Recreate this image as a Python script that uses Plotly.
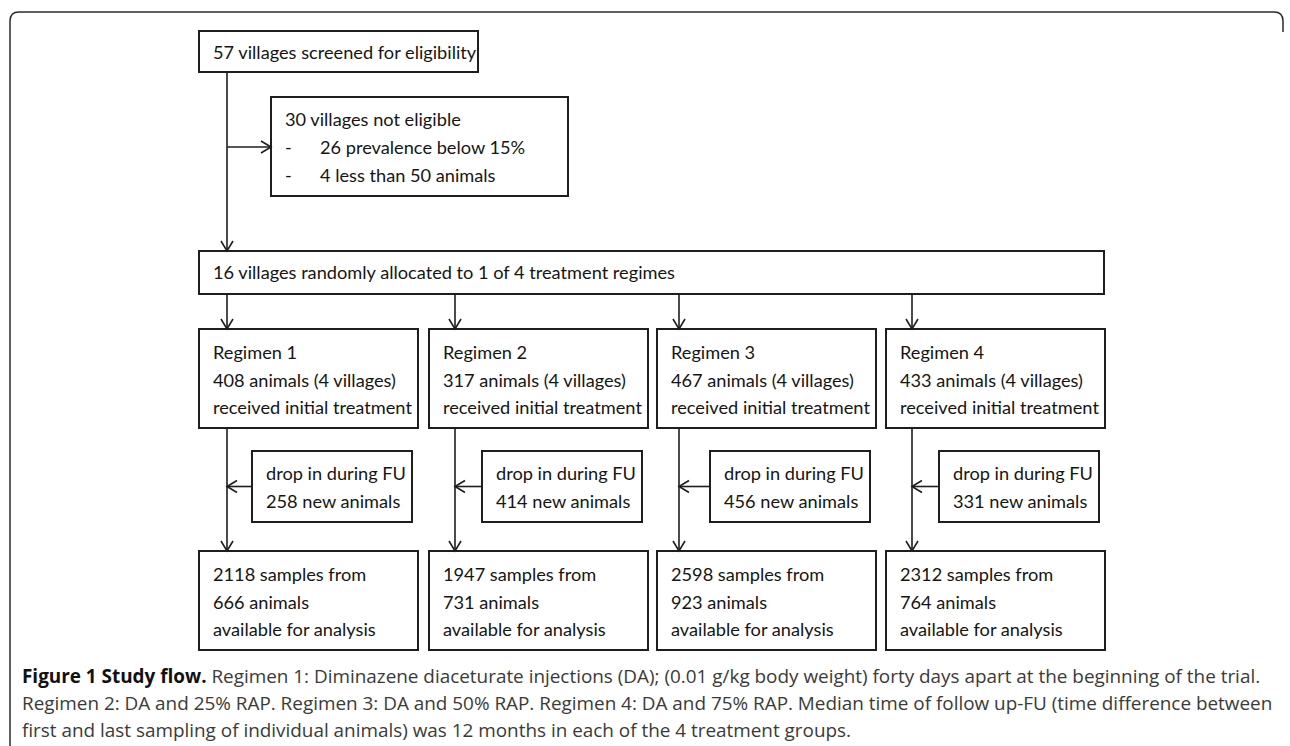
import plotly.graph_objects as go

# ---------------- data (text content of the flow chart) ----------------
screened_text = "57 villages screened for eligibility"
excluded_header = "30 villages not eligible"
excluded_reasons = ["26 prevalence below 15%", "4 less than 50 animals"]
randomized_text = "16 villages randomly allocated to 1 of 4 treatment regimes"
regimens = ["Regimen 1", "Regimen 2", "Regimen 3", "Regimen 4"]
initial_animals = [408, 317, 467, 433]
villages_per_regimen = [4, 4, 4, 4]
drop_in_animals = [258, 414, 456, 331]
samples = [2118, 1947, 2598, 2312]
analysed_animals = [666, 731, 923, 764]
caption_title = "Figure 1 Study flow."
caption_lines = [
    " Regimen 1: Diminazene diaceturate injections (DA); (0.01 g/kg body weight) forty days apart at the beginning of the trial.",
    "Regimen 2: DA and 25% RAP. Regimen 3: DA and 50% RAP. Regimen 4: DA and 75% RAP. Median time of follow up-FU (time difference between",
    "first and last sampling of individual animals) was 12 months in each of the 4 treatment groups.",
]

# ---------------- layout geometry (pixels) ----------------
W, H = 1290, 746
LINE = "#1e1e1e"
BOX_FONT = dict(family="Lato, Carlito, Calibri, sans-serif", size=18.2, color="#151515")
CAP_FONT = dict(family="Open Sans, sans-serif", size=18.9, color="#3a3a3a")

col_left = [199, 429, 657, 886]
col_width = 219
col_arrow_dx = [28, 26, 22, 26]
reg_top, reg_bot = 329, 428
res_top, res_bot = 551, 650
drop_top, drop_bot = 451, 522
drop_dx, drop_w = 53, 160

fig = go.Figure()
shapes = []
annots = []


def box(x0, y0, x1, y1, w=2):
    shapes.append(dict(type="rect", x0=x0, y0=y0, x1=x1, y1=y1,
                       line=dict(color=LINE, width=w), fillcolor="white",
                       layer="below"))


def seg(x0, y0, x1, y1, w=1.6):
    shapes.append(dict(type="line", x0=x0, y0=y0, x1=x1, y1=y1,
                       line=dict(color=LINE, width=w)))


def head(x, y, direction, size=6, length=10):
    if direction == "down":
        p = f"M {x-size},{y-length} L {x},{y} L {x+size},{y-length}"
    elif direction == "right":
        p = f"M {x-length},{y-size} L {x},{y} L {x-length},{y+size}"
    else:  # left
        p = f"M {x+length},{y-size} L {x},{y} L {x+length},{y+size}"
    shapes.append(dict(type="path", path=p, line=dict(color=LINE, width=1.6)))


def text(x, y, s, font=BOX_FONT, anchor="left"):
    annots.append(dict(x=x, y=y, xref="x", yref="y", text=s, showarrow=False,
                       xanchor=anchor, yanchor="middle", font=font))


# outer rounded frame (left edge + top with rounded corners, short right stub)
r = 9
frame = (f"M 10,{H} L 10,{12+r} Q 10,12 {10+r},12 L {1283-r},12 "
         f"Q 1283,12 1283,{12+r} L 1283,32")
shapes.append(dict(type="path", path=frame, line=dict(color="#2a2a2a", width=1.5)))

# screening box
box(199, 31, 478, 72)
text(211, 52, screened_text)

# main vertical flow and exclusion arrow
seg(227, 72, 227, 251)
head(227, 251, "down")
seg(227, 147, 271, 147)
head(271, 147, "right")

# exclusion box
box(271, 97, 568, 196)
text(283, 119, excluded_header)
for i, reason in enumerate(excluded_reasons):
    yy = 147 + 28 * i
    text(283, yy, "-")
    text(318, yy, reason)

# randomisation box
box(199, 251, 1104, 294)
text(211, 272, randomized_text)

for k in range(4):
    L = col_left[k]
    R = L + col_width
    ax = L + col_arrow_dx[k]
    tx = L + 12
    # arrow from randomisation to regimen box
    seg(ax, 294, ax, reg_top)
    head(ax, reg_top, "down")
    # regimen box
    box(L, reg_top, R, reg_bot)
    text(tx, 352, regimens[k])
    text(tx, 380, f"{initial_animals[k]} animals ({villages_per_regimen[k]} villages)")
    text(tx, 407, "received initial treatment")
    # follow-up line with drop-in arrow
    seg(ax, reg_bot, ax, res_top)
    head(ax, res_top, "down")
    dL = L + drop_dx
    box(dL, drop_top, dL + drop_w, drop_bot)
    mid = (drop_top + drop_bot) / 2
    seg(ax, mid, dL, mid)
    head(ax, mid, "left")
    text(dL + 12, 473, "drop in during FU")
    text(dL + 12, 501, f"{drop_in_animals[k]} new animals")
    # results box
    box(L, res_top, R, res_bot)
    text(tx, 574, f"{samples[k]} samples from")
    text(tx, 602, f"{analysed_animals[k]} animals")
    text(tx, 629, "available for analysis")

# caption
text(20, 676, f"<b style='color:#111'>{caption_title}</b>{caption_lines[0]}", font=CAP_FONT)
text(20, 703, caption_lines[1], font=CAP_FONT)
text(20, 730, caption_lines[2], font=CAP_FONT)

fig.update_layout(
    width=W, height=H,
    margin=dict(l=0, r=0, t=0, b=0),
    paper_bgcolor="white", plot_bgcolor="white",
    xaxis=dict(range=[0, W], visible=False, fixedrange=True),
    yaxis=dict(range=[H, 0], visible=False, fixedrange=True),
    shapes=shapes, annotations=annots, showlegend=False,
)
fig.write_html(
    "out.html",
    config={"displayModeBar": False},
    post_script="document.body.style.margin='0';document.body.style.overflow='hidden';",
)
